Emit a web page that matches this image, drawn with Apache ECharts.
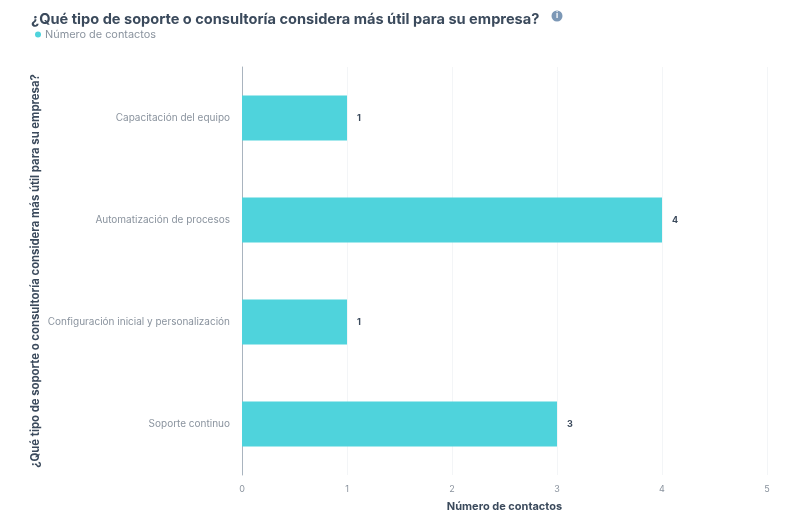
<!DOCTYPE html>
<html>
<head>
<meta charset="utf-8">
<style>html,body{margin:0;padding:0;background:#fff}#chart{width:807px;height:512px}</style>
<script src="https://cdn.jsdelivr.net/npm/echarts@6/dist/echarts.min.js"></script>
</head>
<body>
<div id="chart"></div>
<script>
const titleText = '¿Qué tipo de soporte o consultoría considera más útil para su empresa?';
const seriesName = 'Número de contactos';
const categories = ['Soporte continuo', 'Configuración inicial y personalización', 'Automatización de procesos', 'Capacitación del equipo'];
const contacts = [3, 1, 4, 1];
const fontFamily = 'Inter, Lato, sans-serif';

const chart = echarts.init(document.getElementById('chart'), null, { renderer: 'canvas' });
chart.setOption({
  animation: false,
  backgroundColor: '#ffffff',
  title: {
    text: titleText,
    left: 26, top: 7,
    textStyle: { fontFamily, fontSize: 14.6, fontWeight: 'bold', color: '#3b4a5c' }
  },
  legend: {
    data: [seriesName],
    left: 30, top: 24,
    icon: 'circle', itemWidth: 6, itemHeight: 6, itemGap: 4,
    textStyle: { fontFamily, fontSize: 10.9, color: '#8a939e', padding: [0, 0, 0, -1] }
  },
  grid: { left: 242, right: 40, top: 67, bottom: 37, outerBoundsMode: 'none' },
  xAxis: {
    type: 'value', min: 0, max: 5, interval: 1,
    name: seriesName, nameLocation: 'middle', nameGap: 26,
    nameTextStyle: { fontFamily, fontSize: 11, fontWeight: 'bold', color: '#3b4a5c' },
    axisLine: { show: false }, axisTick: { show: false },
    axisLabel: { fontFamily, fontSize: 9, color: '#8a939e', margin: 10 },
    splitLine: { show: true, lineStyle: { color: '#f3f5f7', width: 1 } }
  },
  yAxis: {
    type: 'category', data: categories,
    name: titleText, nameLocation: 'middle', nameGap: 201, nameRotate: 90,
    nameMoveOverlap: false,
    nameTextStyle: { fontFamily, fontSize: 11.3, fontWeight: 'bold', color: '#3b4a5c' },
    axisLine: { show: true, lineStyle: { color: '#a9b4bf', width: 1 } },
    axisTick: { show: false },
    axisLabel: { fontFamily, fontSize: 10, color: '#8a939e', margin: 12 }
  },
  series: [{
    name: seriesName, type: 'bar', data: contacts,
    barWidth: 45,
    itemStyle: { color: '#4fd3dc' },
    label: {
      show: true, position: 'right', distance: 10,
      fontFamily, fontSize: 9, fontWeight: 'bold', color: '#3b4a5c'
    }
  }],
  graphic: [{
    type: 'circle', shape: { cx: 557, cy: 16, r: 5.5 },
    style: { fill: '#7c98b6' }
  }, {
    type: 'text',
    style: { x: 557, y: 16, text: 'i', align: 'center', verticalAlign: 'middle', fill: '#ffffff', font: 'bold 8px Inter' }
  }]
});
</script>
</body>
</html>
